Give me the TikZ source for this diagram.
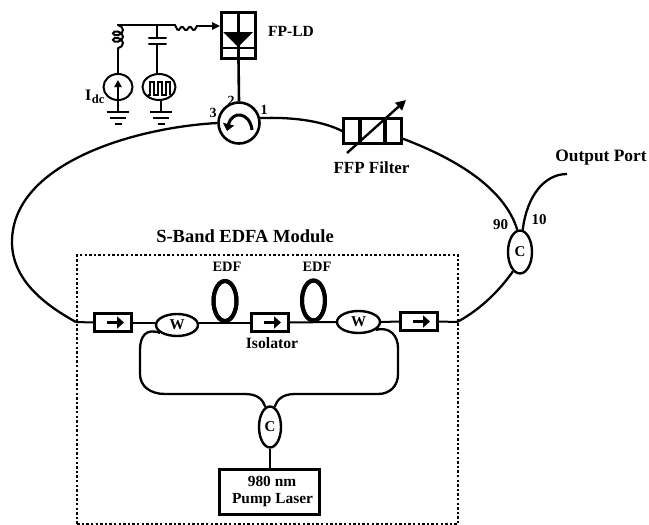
\documentclass[tikz,border=0pt]{standalone}
\usepackage{fontspec}
\setmainfont{Liberation Serif}
\usetikzlibrary{shapes.geometric,arrows.meta,decorations.pathmorphing}
\newcommand{\fsz}[1]{\bfseries\fontsize{#1}{#1}\selectfont}
\tikzset{
  wire/.style={line width=2pt,line cap=round},
  fibre/.style={line width=2.3pt},
  thinw/.style={line width=2pt},
  box/.style={draw,line width=2.6pt,rectangle,inner sep=0pt,fill=white},
  isobox/.style={box,minimum width=37pt,minimum height=18pt},
  oval/.style={draw,ellipse,line width=2.4pt,inner sep=0pt,fill=white,font=\fsz{15}},
  edfloop/.style={draw,ellipse,line width=4pt,inner sep=0pt,minimum width=23pt,minimum height=40pt},
  src/.style={draw,ellipse,line width=2pt,inner sep=0pt,minimum width=29pt,minimum height=26pt},
  lab/.style={inner sep=0pt},
  gnd/.style={line width=2pt},
  isoarrow/.style={-{Triangle[length=7pt,width=12pt]},line width=3pt}
}
\newcommand{\isoarr}[1]{\draw[isoarrow] ([xshift=-6pt]#1.center) -- ([xshift=11pt]#1.center);}
\begin{document}
\begin{tikzpicture}[x=1pt,y=-1pt]
\useasboundingbox (0,0) rectangle (649,525);
% dotted module frame
\node[draw,dash pattern=on 2.4pt off 2.2pt,line width=2.4pt,minimum width=381pt,minimum height=269pt,inner sep=0pt,anchor=north west] (module) at (76,254) {};
\node[lab,font=\fsz{18.5}] (modlab) at (245,236) {S-Band EDFA Module};
% components
\node[draw,circle,line width=2.6pt,minimum size=41pt,inner sep=0pt,fill=white] (circ) at (239,123) {};
\node[box,minimum width=58pt,minimum height=25pt] (ffp) at (372.5,131) {};
\node[oval,minimum width=24pt,minimum height=43pt] (cout) at (520,252) {C};
\node[isobox] (iso1) at (113,322.5) {};
\node[isobox] (iso2) at (270,322.5) {};
\node[isobox] (iso3) at (419,321.5) {};
\node[oval,minimum width=42pt,minimum height=22pt] (w1) at (177,325) {W};
\node[oval,minimum width=43pt,minimum height=22pt] (w2) at (358.5,322) {W};
\node[edfloop] (edf1) at (225,301) {};
\node[edfloop] (edf2) at (313.5,300.5) {};
\node[oval,minimum width=22pt,minimum height=41pt] (cpump) at (270,427) {C};
\node[box,minimum width=100pt,minimum height=45pt] (pump) at (269.5,492) {};
\node[box,minimum width=34pt,minimum height=46pt] (ld) at (238.5,35.5) {};
% free fibre ends
\coordinate (ringL) at (76,322);
\coordinate (ringR) at (457,322);
\coordinate (outp) at (567,174);
\coordinate (ffpout) at (401,138);
% ring
\draw[fibre] (circ.west) .. controls (130,128) and (12,165) .. (12,242) .. controls (12,280) and (45,305) .. (ringL);
\draw[fibre] (circ.13) .. controls (290,117) and (320,120) .. (ffp.west);
\draw[fibre] (ffpout) .. controls (460,160) and (505,190) .. (cout.97);
\draw[fibre] (cout.83) .. controls (527,195) and (545,174) .. (outp);
\draw[fibre] (cout.250) .. controls (500,290) and (480,310) .. (ringR);
\draw[line width=2.6pt] (ld.south) -- (circ.north);
% module chain
\draw[thinw] (ringL) -- (iso1.west);
\draw[thinw] (iso1.east) -- (w1.west |- iso1.east);
\draw[thinw] (w1.east |- iso2.west) -- (iso2.west);
\draw[thinw] (iso2.east) -- (w2.west);
\draw[thinw] (w2.east) -- (iso3.west);
\draw[thinw] (iso3.east) -- (ringR);
\draw[fibre] (w1.205) .. controls (146,328) and (140,336) .. (140,350) -- (140,374) .. controls (140,386) and (150,394) .. (165,394) -- (245,394) .. controls (258,394) and (263,400) .. (cpump.103);
\draw[fibre] (w2.335) .. controls (390,326) and (398,336) .. (398,348) -- (398,374) .. controls (398,386) and (390,394) .. (378,394) -- (295,394) .. controls (282,394) and (277,400) .. (cpump.77);
\draw[thinw] (cpump.south) -- (cpump.south |- pump.north);
% redraw tops of components
\node[edfloop] at (edf1) {};
\node[edfloop] at (edf2) {};
\node[isobox] at (iso2) {};
\isoarr{iso1}\isoarr{iso2}\isoarr{iso3}
% FFP internals
\draw[line width=3.6pt] (360,118) -- (360,143);
\draw[line width=3.6pt] (385,118) -- (385,143);
\coordinate (ffpa) at (347,153);
\coordinate (ffpb) at (406,100);
\draw[-{Triangle[length=10pt,width=10pt]},line width=2.4pt] (ffpa) -- (ffpb);
% circulator arrow
\draw[line width=3pt,-{Triangle[length=7pt,width=11pt]}] (252,130) .. controls (250,112) and (232,110) .. (227,131);
% FP-LD internals
\draw[line width=2.4pt] (ld.north) -- (ld.south);
\fill (223,32) -- (253,32) -- (238,47) -- cycle;
\draw[wire] (222,48) -- (254,48);
% electrical side
\coordinate (coilT) at (118,25);
\coordinate (coilB) at (118,50);
\coordinate (jct) at (175,25);
\coordinate (zzE) at (197,26);
\node[src] (s1) at (118,87) {};
\node[src,minimum width=33pt] (s2) at (159,87) {};
\draw[wire] (coilT) -- (jct);
\draw[wire,rounded corners=1.5pt] (jct) -- (178,31) -- (182,26) -- (186,31) -- (190,26) -- (194,31) -- (zzE);
\draw[wire,-{Triangle[length=8pt,width=7pt]}] (zzE) -- (ld.west |- zzE);
\draw[wire,decorate,decoration={coil,aspect=0.7,amplitude=5pt,segment length=6.5pt}] (coilT) -- (coilB);
\draw[wire] (coilB) -- (s1.north);
\draw[wire] (157,25) -- (157,38);
\draw[wire] (149,38) -- (166,38);
\draw[wire] (149,44) -- (166,44);
\draw[wire] (157,44) -- (157,74);
\draw[line width=2pt,-{Triangle[length=7pt,width=7pt]}] (118,100) -- (118,80);
\draw[wire] (118,100) -- (118,112);
\draw[line width=1.8pt] (148,95) -- (150,95) -- (150,82) -- (154,82) -- (154,95) -- (158,95) -- (158,82) -- (162,82) -- (162,95) -- (166,95) -- (166,82) -- (170,82) -- (170,95);
\draw[wire] (161,100) -- (161,112);
\foreach \gx in {118,161}{
  \draw[gnd] (\gx-11,112) -- (\gx+11,112);
  \draw[gnd] (\gx-8,118) -- (\gx+8,118);
  \draw[gnd] (\gx-3.5,124) -- (\gx+3.5,124);
}
% labels
\node[lab,font=\fsz{15.5}] (fpld) at (291,31) {FP-LD};
\node[lab,font=\fsz{14}] (p1) at (264,110) {1};
\node[lab,font=\fsz{14}] (p2) at (231,101) {2};
\node[lab,font=\fsz{14}] (p3) at (213,113) {3};
\node[lab,anchor=west,font=\fsz{16}] (idc) at (85,97) {I\kern0.5pt\raisebox{-3pt}{\fsz{12.5}dc}};
\node[lab,font=\fsz{17}] (ffplab) at (371.5,168) {FFP Filter};
\node[lab,font=\fsz{17.4}] (outlab) at (601,158) {Output Port};
\node[lab,font=\fsz{15}] (n90) at (500.5,225) {90};
\node[lab,font=\fsz{15}] (n10) at (539,220) {10};
\node[lab,font=\fsz{14.4}] (e1) at (227,267) {EDF};
\node[lab,font=\fsz{14.4}] (e2) at (317,267) {EDF};
\node[lab,font=\fsz{15.7}] (isolab) at (272,343) {Isolator};
\node[lab,font=\fsz{15.4}] (pl1) at (272,481) {980 nm};
\node[lab,font=\fsz{15.4}] (pl2) at (272.5,500) {Pump Laser};
\end{tikzpicture}
\end{document}
